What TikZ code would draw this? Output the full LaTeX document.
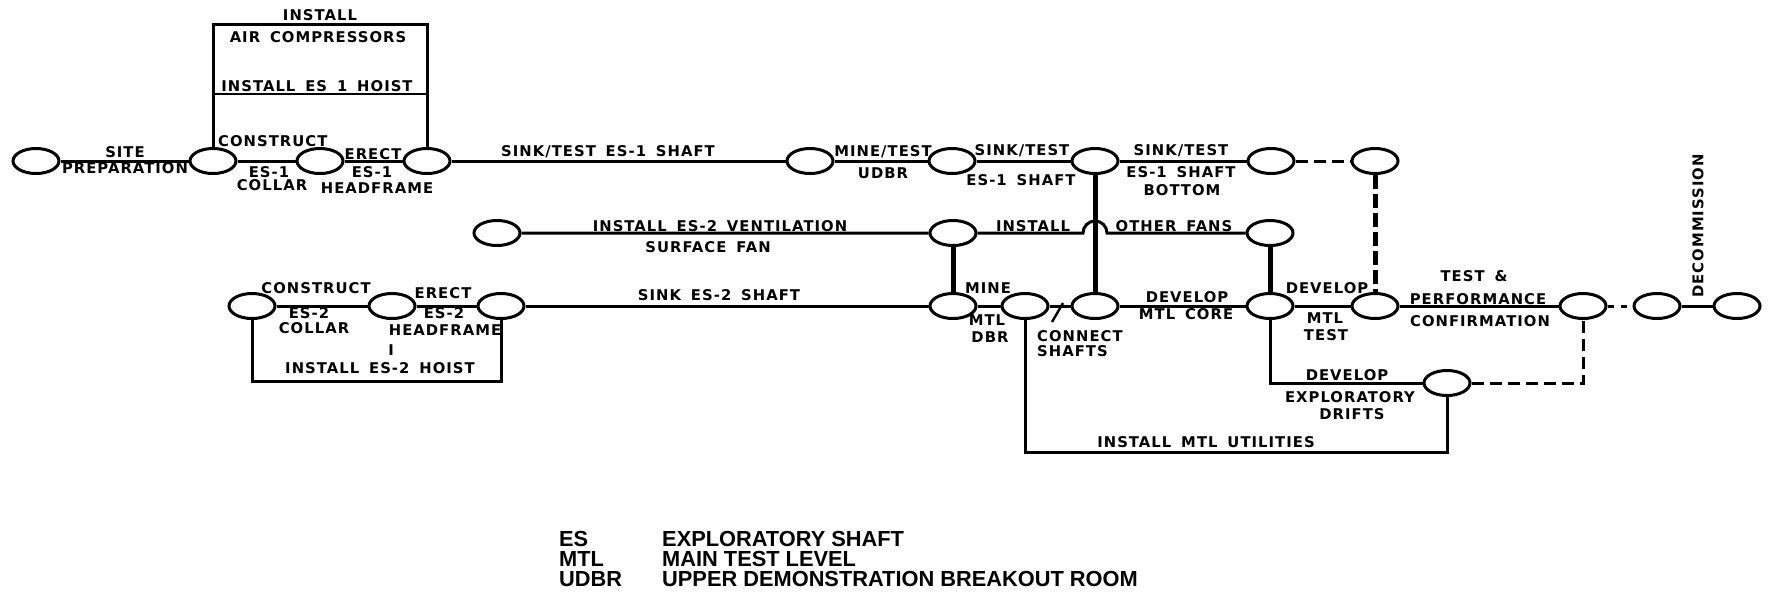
\documentclass[tikz,border=0pt]{standalone}
\usepackage{fontspec}
\newfontfamily\lblfont[LetterSpace=7,WordSpace=1.6]{DejaVu Sans Bold}
\newfontfamily\keyfont{Liberation Sans Bold}
\usetikzlibrary{math}
\usetikzlibrary{shapes.geometric}

\tikzset{
  evt/.style={ellipse, draw, line width=3pt, minimum width=46pt, minimum height=25pt, inner sep=0pt},
  lbl/.style={inner sep=0pt, font=\lblfont\fontsize{14.8}{15}\selectfont},
  key/.style={inner sep=0pt, anchor=west, font=\keyfont\fontsize{21.8}{22}\selectfont},
  act/.style={line width=3pt},
  tie/.style={line width=5pt},
  dsh/.style={line width=3pt, dash pattern=on 12pt off 6pt},
  vdsh/.style={line width=5pt, dash pattern=on 14pt off 5pt},
}

\begin{document}
\begin{tikzpicture}[x=1pt, y=-1pt]

\tikzmath{
\ya = 161; %rows of events
\yb = 233;
\yc = 306;
\yd = 383;
}

\useasboundingbox (0,0) rectangle (1768,606);

\foreach \nm/\x/\y in {n1/36/\ya, n2/213/\ya, n3/320/\ya, n4/427/\ya, n5/810/\ya, n6/952/\ya, n7/1095/\ya, n8/1271/\ya, n9/1375/\ya,
  v1/497/\yb, v2/953/\yb, v3/1270/\yb,
  s1/252/\yc, s2/392/\yc, s3/501/\yc, m1/953/\yc, m2/1025/\yc, m3/1095/\yc, m4/1270/\yc, m5/1375/\yc, m6/1583/\yc, m7/1657/\yc, m8/1737/\yc,
  x1/1447/\yd}{
  \node[evt] (\nm) at (\x,\y) {};
}

\coordinate (boxtop) at (320,24);
\coordinate (hoist) at (320,94);
\coordinate (hoistbot) at (380,381);
\coordinate (jmp) at (1083,\yb);
\coordinate (util) at (1206,452);

% ES-1 line
\draw[act] (n1) -- (n2) -- (n3) -- (n4) -- (n5) -- (n6) -- (n7) -- (n8);
\draw[dsh] (n8) -- (n9);
\draw[act] (n2.north) |- (boxtop) -| (n4.north);
\draw[line width=1.5pt] (n2.north |- hoist) -- (n4.north |- hoist);

% fans
\draw[act] (v1) -- (v2) -- (jmp) arc[start angle=180, end angle=360, radius=12] -- (v3);
\draw[tie] (v2) -- (m1);
\draw[tie] (n7) -- (m3);
\draw[tie] (v3) -- (m4);
\draw[vdsh] (n9) -- (m5);

% ES-2 line and MTL
\draw[act] (s1) -- (s2) -- (s3) -- (m1) -- (m2) -- (m3) -- (m4) -- (m5) -- (m6);
\draw[act] (s1.south) |- (hoistbot) -| (s3.south);
\draw[line width=2.4pt] (1052,322) -- (1063,303);
\draw[dsh, dash pattern=on 6pt off 7pt] (m6) -- (m7);
\draw[act] (m7) -- (m8);
\draw[act] (m4) |- (x1);
\draw[dsh] (x1) -| (m6);
\draw[act] (m2) |- (util) -| (x1);

\foreach \nm/\x/\y/\txt in {
  lInst/320/15/INSTALL, lAir/318/37/AIR COMPRESSORS, lHoistA/317/86/INSTALL ES 1 HOIST,
  lSite/125/152/SITE, lPrep/125/168/PREPARATION,
  lEsA/269/172/ES-1, lCollarA/272/185/COLLAR,
  lErectA/373/154/ERECT, lEsB/372/172/ES-1, lHeadA/377/188/HEADFRAME,
  lSinkA/608/152/{SINK/TEST ES-1 SHAFT}, lMineA/883/152/{MINE/TEST}, lUdbr/883/173/UDBR,
  lSinkB/1022/151/{SINK/TEST}, lShaftB/1021/180/ES-1 SHAFT,
  lSinkC/1181/151/{SINK/TEST}, lShaftC/1181/172/ES-1 SHAFT, lBottom/1182/190/BOTTOM,
  lVent/720/226/INSTALL ES-2 VENTILATION, lFan/708/247/SURFACE FAN,
  lInstB/1033/226/INSTALL, lOther/1174/226/OTHER FANS,
  lConB/316/288/CONSTRUCT, lEsC/309/313/ES-2, lCollarB/314/328/COLLAR,
  lErectB/443/293/ERECT, lEsD/444/313/ES-2, lHeadB/445/330/HEADFRAME,
  lMark/391/350/I, lHoistB/380/368/INSTALL ES-2 HOIST,
  lSinkD/719/295/SINK ES-2 SHAFT,
  lMine/988/288/MINE, lMtlA/987/320/MTL, lDbr/990/337/DBR,
  lDevA/1187/297/DEVELOP, lCore/1186/314/MTL CORE,
  lDevB/1327/288/DEVELOP, lMtlB/1325/318/MTL, lTestA/1326/335/TEST,
  lTestB/1474/276/{TEST \&}, lPerf/1478/299/PERFORMANCE, lConf/1480/321/CONFIRMATION,
  lDevC/1347/375/DEVELOP, lExpl/1350/397/EXPLORATORY, lDrift/1352/414/DRIFTS,
  lUtil/1206/442/INSTALL MTL UTILITIES}{
  \node[lbl] (\nm) at (\x,\y) {\txt};
}
\node[lbl, anchor=west] (lConA) at (218,141) {CONSTRUCT};
\node[lbl, anchor=west] (lConn) at (1037,336) {CONNECT};
\node[lbl, anchor=west] (lShafts) at (1037,351) {SHAFTS};
\node[lbl, rotate=90] (lDecom) at (1698,226) {DECOMMISSION};

\foreach \ab/\txt/\y [count=\i] in {ES/EXPLORATORY SHAFT/539, MTL/MAIN TEST LEVEL/559, UDBR/UPPER DEMONSTRATION BREAKOUT ROOM/579}{
  \node[key] (ab\i) at (559,\y) {\ab};
  \node[key] (key\i) at (662,\y) {\txt};
}

\end{tikzpicture}
\end{document}
